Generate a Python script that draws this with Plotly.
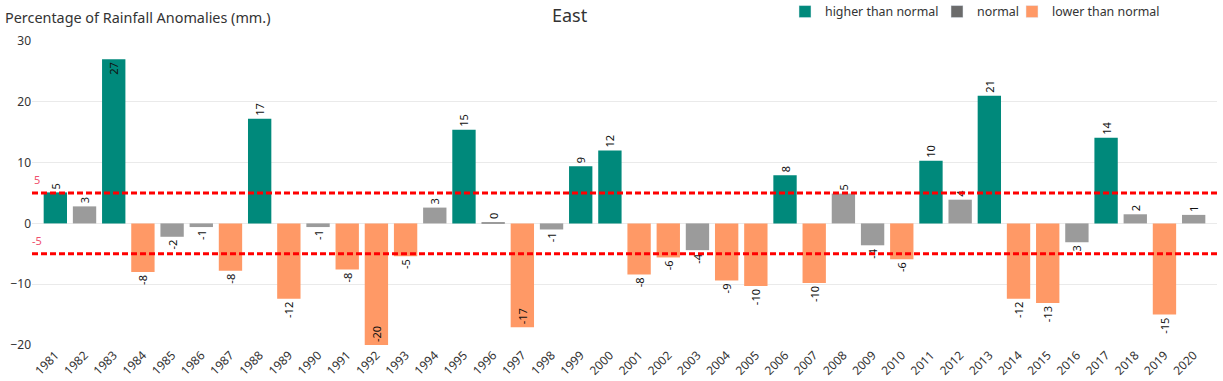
import plotly.graph_objects as go

years = [str(y) for y in range(1981, 2021)]
values = [5.1, 2.8, 27.0, -8.0, -2.2, -0.6, -7.8, 17.2, -12.4, -0.6,
          -7.6, -20.0, -5.4, 2.6, 15.4, 0.2, -17.1, -1.0, 9.4, 12.0,
          -8.4, -5.6, -4.4, -9.4, -10.3, 7.9, -9.8, 4.9, -3.6, -5.9,
          10.3, 3.9, 21.0, -12.4, -13.1, -3.1, 14.1, 1.5, -15.0, 1.4]
labels = ["5", "3", "27", "-8", "-2", "-1", "-8", "17", "-12", "-1",
          "-8", "-20", "-5", "3", "15", "0", "-17", "-1", "9", "12",
          "-8", "-6", "-4", "-9", "-10", "8", "-10", "5", "-4", "-6",
          "10", "4", "21", "-12", "-13", "-3", "14", "2", "-15", "1"]
categories = ["higher than normal", "normal", "lower than normal"]
upper_ref = 5
lower_ref = -5
y_ticks = [-20, -10, 0, 10, 20, 30]


def classify(v):
    if v > upper_ref:
        return categories[0]
    if v < lower_ref:
        return categories[2]
    return categories[1]


bar_colors = {"higher than normal": "#00897B", "normal": "#9B9B9B", "lower than normal": "#FF9966"}
legend_colors = {"higher than normal": "#00897B", "normal": "#6B6B6B", "lower than normal": "#FF9966"}

cats = [classify(v) for v in values]
colors = [bar_colors[c] for c in cats]
# labels that would overflow the axis range go inside the bar end
textpos = ["inside" if (v > 25 or v < -16) else "outside" for v in values]

FONT = "Noto Sans, Open Sans, sans-serif"

W, H = 1223, 381
ML, MR, MT, MB = 32, 6, 41, 36
PW, PH = W - ML - MR, H - MT - MB

fig = go.Figure()
fig.add_trace(go.Bar(
    x=years, y=values, marker=dict(color=colors, line=dict(width=0)),
    text=labels, textposition=textpos, textangle=-90,
    insidetextanchor="end",
    textfont=dict(size=11, color="#111111", family=FONT),
    cliponaxis=False, showlegend=False, hoverinfo="x+y",
))
legend_ids = ["legend", "legend2", "legend3"]
legend_x = [785, 937, 1012]
for c, lid in zip(categories, legend_ids):
    fig.add_trace(go.Bar(x=[None], y=[None], name=c, legend=lid,
                         marker=dict(color=legend_colors[c])))

for ref in (upper_ref, lower_ref):
    fig.add_shape(type="line", xref="paper", x0=0, x1=1, yref="y", y0=ref, y1=ref,
                  line=dict(color="#FF0000", width=3, dash="6px,3px"))
    fig.add_annotation(xref="paper", x=0.004, yref="y", y=ref, yanchor="bottom",
                       xanchor="center", yshift=4, text=str(ref), showarrow=False,
                       font=dict(size=11, color="#F0506E", family=FONT))

fig.add_annotation(xref="paper", x=(570 - ML) / PW, yref="paper", y=1 + (MT - 15) / PH,
                   xanchor="center", yanchor="middle", text="East", showarrow=False,
                   font=dict(size=18, color="#333333", family=FONT))

legend_layouts = {}
for lid, lx in zip(legend_ids, legend_x):
    legend_layouts[lid] = dict(orientation="h", xref="container", yref="container",
                               x=lx / W, y=1 - 12 / H, xanchor="left", yanchor="middle",
                               font=dict(size=12.4, color="#333333", family=FONT),
                               bgcolor="rgba(0,0,0,0)")

fig.update_layout(
    width=W, height=H,
    margin=dict(l=ML, r=MR, t=MT, b=MB, autoexpand=False),
    paper_bgcolor="white", plot_bgcolor="white",
    bargap=0.2,
    font=dict(family=FONT, color="#333333"),
    title=dict(text="Percentage of Rainfall Anomalies (mm.)", xref="container", yref="container",
               x=5 / W, y=1 - 18 / H, xanchor="left", yanchor="middle",
               font=dict(size=14.4, color="#333333", family=FONT)),
    xaxis=dict(type="category", tickangle=-45, range=[-0.8, 39.8], automargin=False,
               tickfont=dict(size=12, color="#333333"), showgrid=False,
               showline=False, ticks=""),
    yaxis=dict(range=[-20, 30], tickvals=y_ticks, showgrid=True, gridcolor="#EAEAEA",
               gridwidth=1, zeroline=True, zerolinecolor="#EAEAEA", zerolinewidth=1,
               automargin=False,
               tickfont=dict(size=12, color="#333333"), ticks="", showline=False),
    **legend_layouts,
)

fig.write_html("out.html", config={"displayModeBar": False},
               post_script="document.body.style.margin='0';")
